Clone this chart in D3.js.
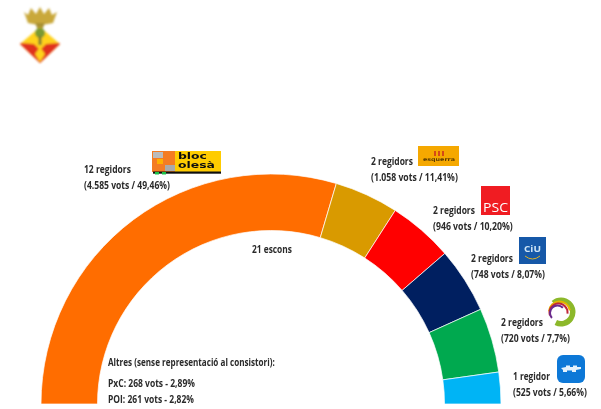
<!DOCTYPE html>
<html><head><meta charset="utf-8">
<script src="https://cdnjs.cloudflare.com/ajax/libs/d3/7.8.5/d3.min.js"></script>
<style>html,body{margin:0;padding:0;background:#fff}svg{display:block}text{font-family:"Open Sans",sans-serif;font-weight:700;fill:#2a2a2a;font-size:10.5px}</style>
</head><body><svg id="c" width="601" height="409"></svg>
<script>
const parties = ["Bloc Olesà","Esquerra","PSC","CiU","ICV-EUiA","PP"];
const arcDegrees = [106.5,16.2,16.4,16.6,16.3,8.0];
const seatLabels = ["12 regidors","2 regidors","2 regidors","2 regidors","2 regidors","1 regidor"];
const voteLabels = ["(4.585 vots / 49,46%)","(1.058 vots / 11,41%)","(946 vots / 10,20%)","(748 vots / 8,07%)","(720 vots / 7,7%)","(525 vots / 5,66%)"];
const arcColors = ["#ff6d00","#d99a00","#ff0000","#001f60","#00a94f","#00b4f5"];
const totalLabel = "21 escons";
const otherLines = ["Altres (sense representació al consistori):","PxC: 268 vots - 2,89%","POI: 261 vots - 2,82%"];

const svg = d3.select("#c");
const defs = svg.append("defs");
defs.append("filter").attr("id","soft").append("feGaussianBlur").attr("stdDeviation",0.5);
defs.append("filter").attr("id","softer").append("feGaussianBlur").attr("stdDeviation",0.8);

const cx=271, cy=404, R=230, r=173.5;
const pie=d3.pie().sort(null).value(d=>d).startAngle(-Math.PI/2).endAngle(Math.PI/2);
const arc=d3.arc().innerRadius(r).outerRadius(R);
svg.append("g").attr("transform",`translate(${cx},${cy})`)
  .selectAll("path").data(pie(arcDegrees)).join("path")
  .attr("d",arc).attr("fill",(d,i)=>arcColors[i])
  .attr("stroke","#fff").attr("stroke-width",0.7);

// Text condensed to its measured width in the reference with a horizontal scale
function fit(sel,x,y,w){const n=sel.node();const len=n.getComputedTextLength();sel.attr("transform",`translate(${x},${y}) scale(${w/len},1)`);return sel;}
const labelPos=[[84,173,47,86],[371,165,42,87],[433,214,42,80],[471,262,42,74],[501,326,42,69],[513,380,37,74]];
const tg=svg.append("g").attr("filter","url(#soft)");
function put(s,x,y,w){fit(tg.append("text").text(s),x,y,w);}
seatLabels.forEach((s,i)=>{const p=labelPos[i];put(s,p[0],p[1],p[2]);put(voteLabels[i],p[0],p[1]+15.5,p[3]);});
put(totalLabel,252,253,40);
put(otherLines[0],108,366,167);
put(otherLines[1],108,387,87);
put(otherLines[2],108,403,86);

const lg=svg.append("g").attr("filter","url(#soft)");
function logoText(s,x,y,w,size,fill,family,weight){fit(lg.append("text").style("font-family",family).style("font-size",size+"px").style("font-weight",weight).style("fill",fill).text(s),x,y,w);}
// bloc olesà
lg.append("rect").attr("x",152).attr("y",151).attr("width",69).attr("height",21).attr("fill","#ffcc00");
lg.append("path").attr("d","M152 151 H175 V172 H152Z").attr("fill","#f47b20");
lg.append("rect").attr("x",153).attr("y",152).attr("width",10).attr("height",6).attr("fill","#bbb");
lg.append("rect").attr("x",165).attr("y",165).attr("width",10).attr("height",6).attr("fill","#aaa");
lg.append("rect").attr("x",157).attr("y",159).attr("width",6).attr("height",5).attr("fill","#ffb000");
lg.append("rect").attr("x",153).attr("y",171.5).attr("width",68).attr("height",2.2).attr("fill","#111");
lg.append("rect").attr("x",155).attr("y",172).attr("width",4).attr("height",2.5).attr("fill","#1fc24a");
lg.append("rect").attr("x",162).attr("y",172).attr("width",4).attr("height",2.5).attr("fill","#1fc24a");
logoText("bloc",178,159,29,8,"#111","'DejaVu Sans',sans-serif",700);
logoText("olesà",178,168,37,8,"#111","'DejaVu Sans',sans-serif",700);
// esquerra
lg.append("rect").attr("x",418).attr("y",146).attr("width",41).attr("height",20).attr("fill","#f5a800");
logoText("esquerra",423,161,32,5,"#5a3a00","'DejaVu Sans',sans-serif",700);
arcDegrees.slice(1,4).forEach((_,i)=>lg.append("rect").attr("x",434.3+i*4).attr("y",151).attr("width",1.4).attr("height",5).attr("fill","#c8201c"));
// PSC
lg.append("rect").attr("x",481).attr("y",186).attr("width",29).attr("height",29).attr("fill","#f01a20");
logoText("PSC",483,212,25,12,"#fff","'Open Sans',sans-serif",400);
// CiU
lg.append("rect").attr("x",519).attr("y",237).attr("width",27).attr("height",27).attr("fill","#1259a8");
logoText("CiU",524,252,17,8,"#cfe4f7","'Open Sans',sans-serif",700);
lg.append("path").attr("d","M525 256 Q532.5 262 540 256").attr("fill","none").attr("stroke","#e0b020").attr("stroke-width",1);
// ICV ring: offset crescents, angles clockwise from the top
const rings=[["#8cb82b",561,312,9,14.5,-0.7,3.6],["#e8b400",559.5,312,9.5,11.5,-1.5,1.4],["#c0283a",558.5,312.5,8,10,-1.9,1.7],["#6a2a8c",557.5,313,6.5,8.5,-2.3,0.8]];
rings.forEach(([c,x,y,ri,ro,a0,a1])=>{
  const rc=d3.arc().innerRadius(ri).outerRadius(ro).startAngle(a0).endAngle(a1);
  lg.append("path").attr("transform",`translate(${x},${y})`).attr("d",rc()).attr("fill",c);
});
// PP
lg.append("rect").attr("x",557).attr("y",355).attr("width",28).attr("height",28).attr("rx",6).attr("fill","#0a78d7");
lg.append("path").attr("d","M561 368 L566 367 V365.5 H570 V367 H573 V365.5 H577 V367 H581 V369 L576 370 V372 H572 V370.5 H567 V372 H563 V370 Z").attr("fill","#e6f2fc");
// Crest
const cg=svg.append("g").attr("filter","url(#softer)");
cg.append("path").attr("d","M24 12 L28 15 L31 8 L36 14 L40 7 L44 14 L49 8 L52 15 L57 12 L53 23 Q40 26 28 23Z").attr("fill","#c9a83a");
cg.append("path").attr("d","M35 23 H45 L42 30 H38Z").attr("fill","#a89030");
cg.append("path").attr("d","M40 27 L60 44 L40 63 L20 44Z").attr("fill","#ffd21a");
cg.append("path").attr("d","M21 43 L34 44 L40 50 L46 44 L59 43 L60 44 L40 63 L20 44Z").attr("fill","#e0301e");
cg.append("path").attr("d","M40 47 L45 54 L40 62 L35 54Z").attr("fill","#ffd21a");
cg.append("ellipse").attr("cx",40).attr("cy",33).attr("rx",5).attr("ry",5).attr("fill","#7a9a30");
cg.append("rect").attr("x",38.5).attr("y",36).attr("width",3).attr("height",9).attr("fill","#7a7a30");
</script></body></html>
